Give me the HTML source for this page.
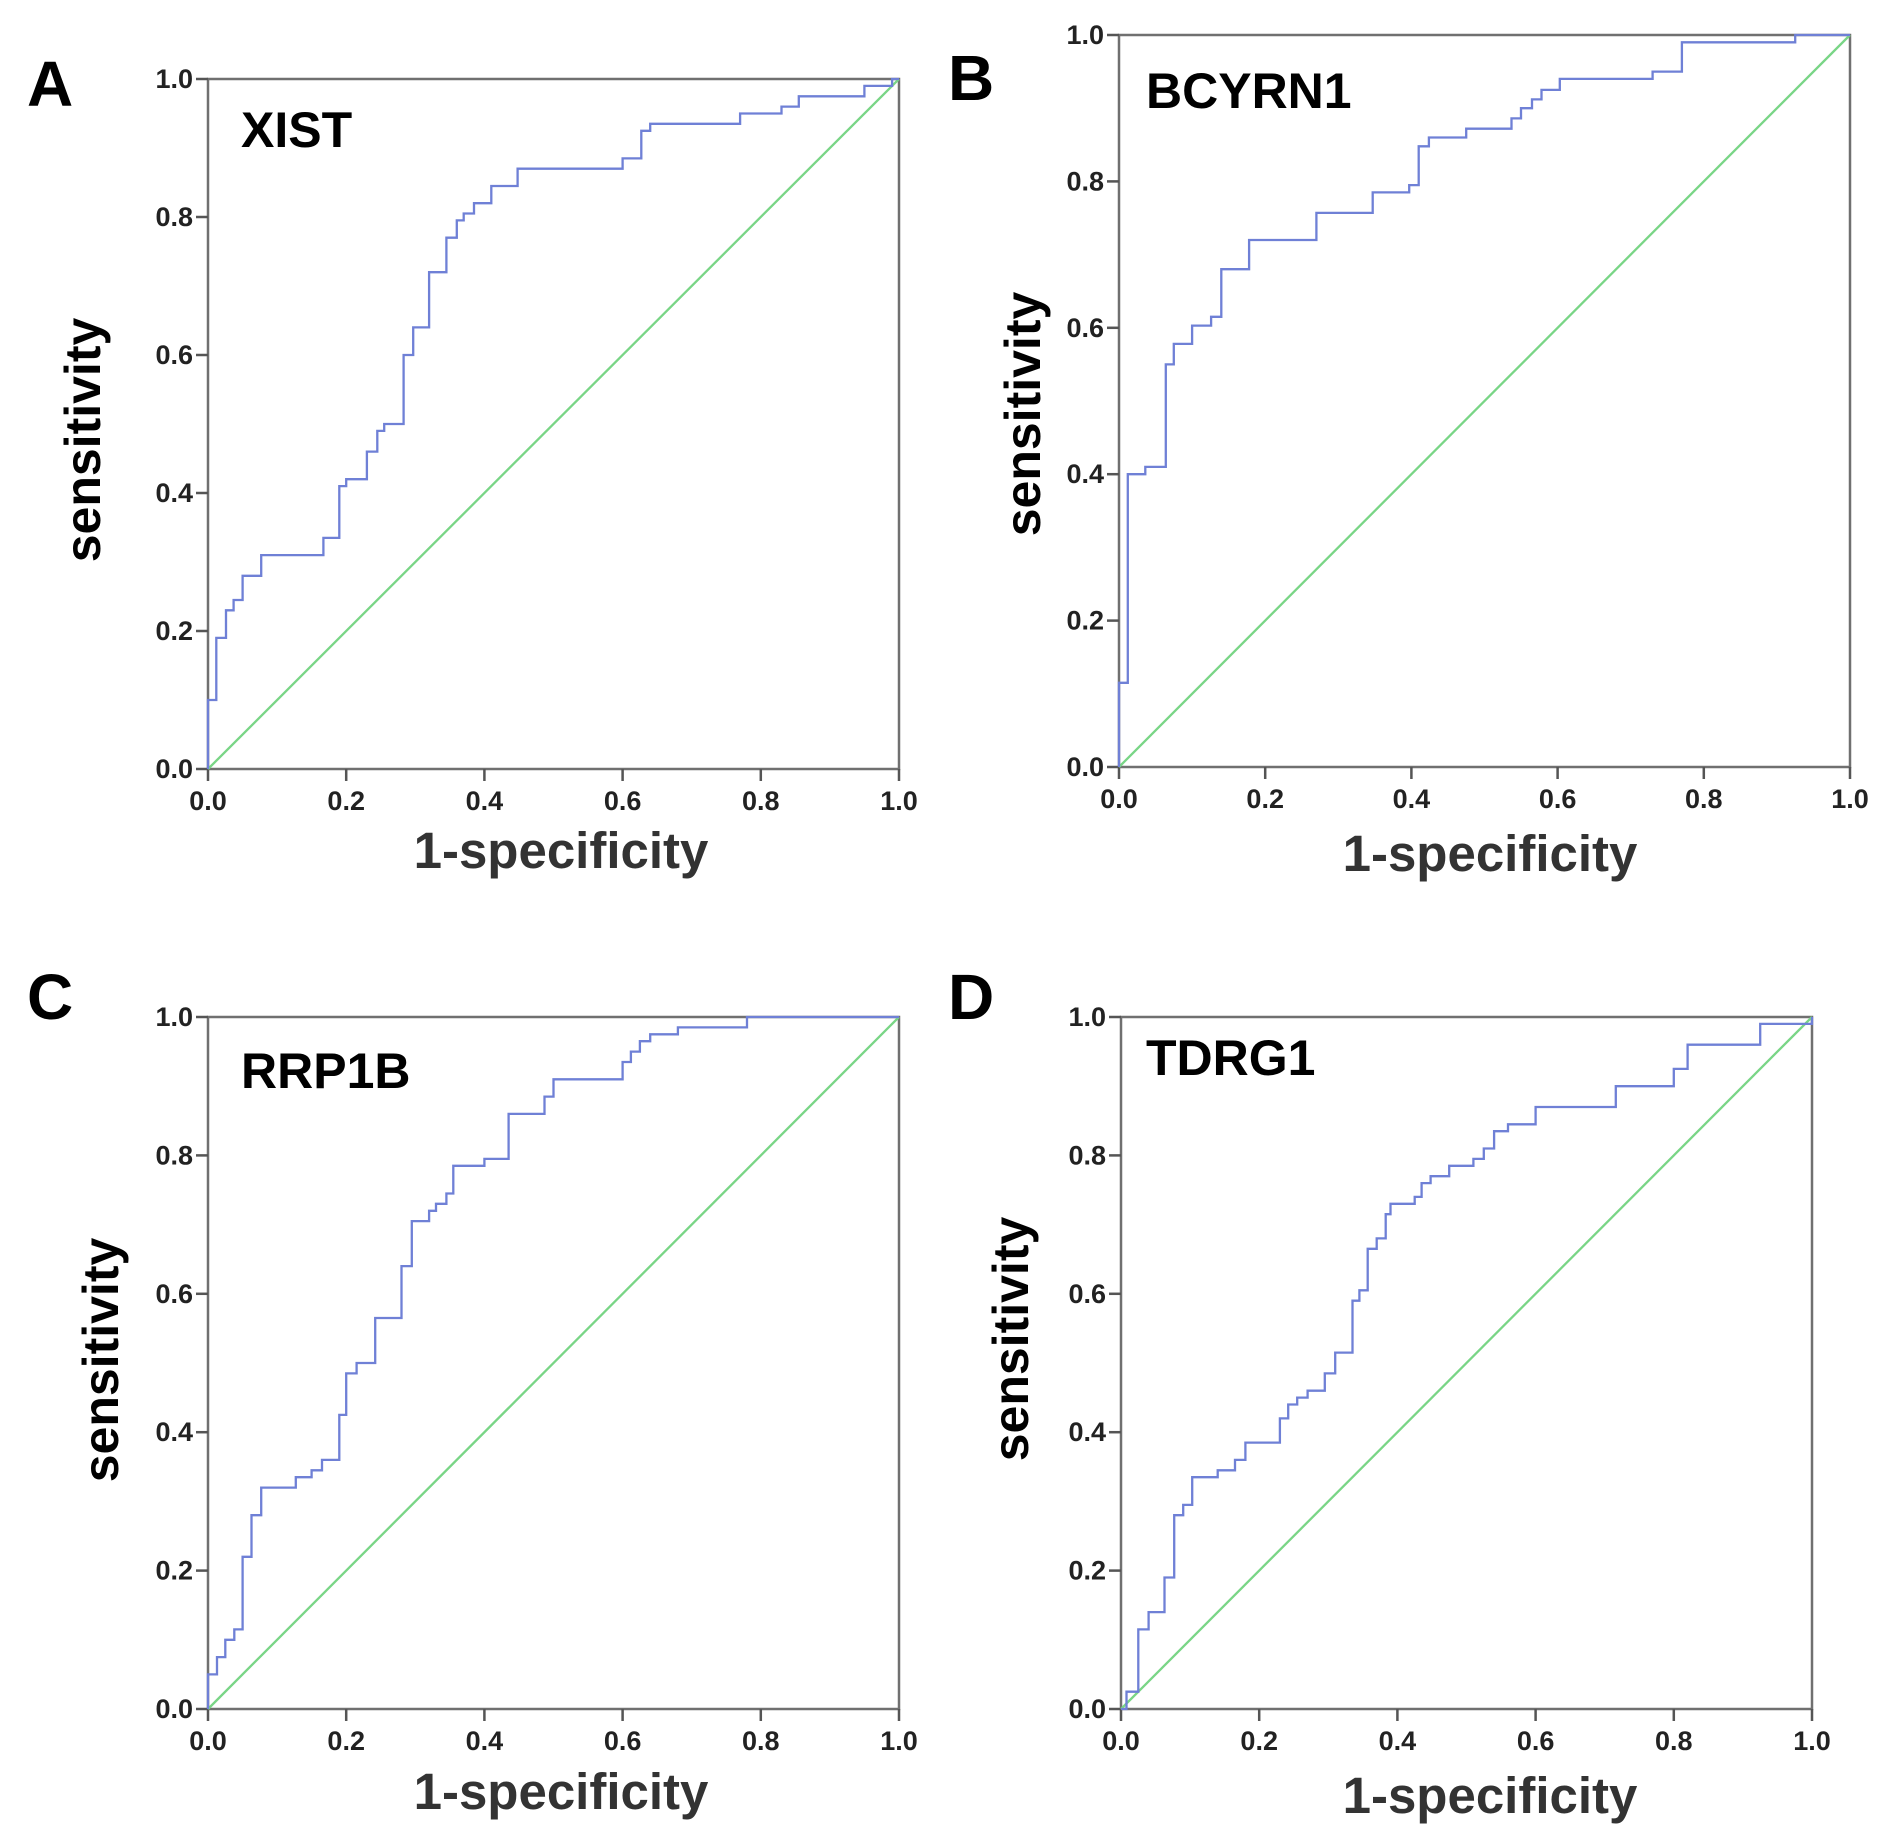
<!DOCTYPE html>
<html><head><meta charset="utf-8"><style>
html,body{margin:0;padding:0;background:#fff;}
svg{display:block;font-family:"Liberation Sans",Arial,sans-serif;}
</style></head><body>
<svg id="fig" width="1890" height="1842" viewBox="0 0 1890 1842" xmlns="http://www.w3.org/2000/svg"></svg>
<script>
// Panel A – XIST
const xistFpr = [0, 0.012, 0.026, 0.037, 0.05, 0.077, 0.167, 0.19, 0.2, 0.23, 0.245, 0.255, 0.283, 0.297, 0.32, 0.345, 0.36, 0.37, 0.385, 0.41, 0.448, 0.6, 0.627, 0.64, 0.77, 0.83, 0.855, 0.95, 0.99, 1.0];
const xistTpr = [0.10, 0.19, 0.23, 0.245, 0.28, 0.31, 0.335, 0.41, 0.42, 0.46, 0.49, 0.50, 0.60, 0.64, 0.72, 0.77, 0.795, 0.805, 0.82, 0.845, 0.87, 0.885, 0.925, 0.935, 0.95, 0.96, 0.975, 0.99, 1.0, 1.0];
// Panel B – BCYRN1
const bcyrn1Fpr = [0, 0.012, 0.036, 0.064, 0.075, 0.1, 0.126, 0.14, 0.178, 0.27, 0.347, 0.397, 0.41, 0.424, 0.475, 0.537, 0.55, 0.565, 0.578, 0.603, 0.73, 0.77, 0.925, 1.0];
const bcyrn1Tpr = [0.115, 0.40, 0.41, 0.55, 0.578, 0.603, 0.615, 0.68, 0.72, 0.757, 0.785, 0.795, 0.848, 0.86, 0.872, 0.886, 0.90, 0.912, 0.925, 0.94, 0.95, 0.99, 1.0, 1.0];
// Panel C – RRP1B
const rrp1bFpr = [0, 0.013, 0.025, 0.038, 0.05, 0.063, 0.077, 0.127, 0.15, 0.165, 0.19, 0.2, 0.215, 0.242, 0.28, 0.295, 0.32, 0.33, 0.345, 0.355, 0.4, 0.435, 0.487, 0.5, 0.6, 0.612, 0.625, 0.64, 0.68, 0.78, 1.0];
const rrp1bTpr = [0.05, 0.075, 0.10, 0.115, 0.22, 0.28, 0.32, 0.335, 0.345, 0.36, 0.425, 0.485, 0.50, 0.565, 0.64, 0.705, 0.72, 0.73, 0.745, 0.785, 0.795, 0.86, 0.885, 0.91, 0.935, 0.95, 0.965, 0.975, 0.985, 1.0, 1.0];
// Panel D – TDRG1
const tdrg1Fpr = [0.008, 0.025, 0.04, 0.063, 0.077, 0.09, 0.103, 0.14, 0.165, 0.18, 0.23, 0.242, 0.255, 0.27, 0.295, 0.31, 0.335, 0.345, 0.357, 0.37, 0.383, 0.39, 0.425, 0.435, 0.448, 0.475, 0.51, 0.525, 0.54, 0.56, 0.6, 0.716, 0.8, 0.82, 0.925, 1.0];
const tdrg1Tpr = [0.025, 0.115, 0.14, 0.19, 0.28, 0.295, 0.335, 0.345, 0.36, 0.385, 0.42, 0.44, 0.45, 0.46, 0.485, 0.515, 0.59, 0.605, 0.665, 0.68, 0.715, 0.73, 0.74, 0.76, 0.77, 0.785, 0.795, 0.81, 0.835, 0.845, 0.87, 0.90, 0.925, 0.96, 0.99, 1.0];
// Shared axis ticks
const tickValues = [0, 0.2, 0.4, 0.6, 0.8, 1.0];
const tickLabels = ["0.0", "0.2", "0.4", "0.6", "0.8", "1.0"];

const NS = "http://www.w3.org/2000/svg";
const svg = document.getElementById("fig");
function mk(tag, attrs, parent) {
  const e = document.createElementNS(NS, tag);
  for (const k in attrs) e.setAttribute(k, attrs[k]);
  (parent || svg).appendChild(e);
  return e;
}

const panels = [
  {id:"a", letter:"A", gene:"XIST", fpr:xistFpr, tpr:xistTpr, L:208, R:899, T:79, B:769, lx:27, ly:106, gx:241, gy:147, sx:100, sy:440, xx:561, xy:868},
  {id:"b", letter:"B", gene:"BCYRN1", fpr:bcyrn1Fpr, tpr:bcyrn1Tpr, L:1119, R:1850, T:35, B:767, lx:948, ly:100, gx:1146, gy:108, sx:1040, sy:414, xx:1490, xy:871},
  {id:"c", letter:"C", gene:"RRP1B", fpr:rrp1bFpr, tpr:rrp1bTpr, L:208, R:899, T:1017, B:1709, lx:27, ly:1019, gx:241, gy:1088, sx:118, sy:1360, xx:561, xy:1809},
  {id:"d", letter:"D", gene:"TDRG1", fpr:tdrg1Fpr, tpr:tdrg1Tpr, L:1121, R:1812, T:1017, B:1709, lx:948, ly:1019, gx:1146, gy:1075, sx:1028, sy:1339, xx:1490, xy:1813}
];

panels.forEach(p => {
  const g = mk("g", {});
  
  
  const xs = v => p.L + v * (p.R - p.L);
  const ys = v => p.B - v * (p.B - p.T);

  const lt = mk("text", {x:p.lx, y:p.ly, "font-size":64, "font-weight":"bold", fill:"#000"}, g);
  lt.textContent = p.letter;
  
  

  const fr = mk("rect", {x:p.L, y:p.T, width:p.R - p.L, height:p.B - p.T, fill:"none", stroke:"#707070", "stroke-width":2.5}, g);
  
  

  tickValues.forEach((v, i) => {
    const tx = mk("line", {x1:xs(v), x2:xs(v), y1:p.B, y2:p.B + 12, stroke:"#555", "stroke-width":2.5}, g);
    
    
    const ty = mk("line", {x1:p.L - 12, x2:p.L, y1:ys(v), y2:ys(v), stroke:"#555", "stroke-width":2.5}, g);
    
    
    const xl = mk("text", {x:xs(v), y:p.B + 41, "font-size":27, "font-weight":"bold", fill:"#222", "text-anchor":"middle"}, g);
    xl.textContent = tickLabels[i];
    
    
    const yl = mk("text", {x:p.L - 15, y:ys(v) + 9, "font-size":27, "font-weight":"bold", fill:"#222", "text-anchor":"end"}, g);
    yl.textContent = tickLabels[i];
    
    
  });

  const dg = mk("line", {x1:xs(0), y1:ys(0), x2:xs(1), y2:ys(1), stroke:"#79d586", "stroke-width":2.3}, g);
  
  

  let d = "M" + xs(0) + "," + ys(0);
  for (let i = 0; i < p.fpr.length; i++) {
    d += " H" + xs(p.fpr[i]).toFixed(1) + " V" + ys(p.tpr[i]).toFixed(1);
  }
  const cv = mk("path", {d:d, fill:"none", stroke:"#6f80d6", "stroke-width":2.3}, g);
  
  

  const gt = mk("text", {x:p.gx, y:p.gy, "font-size":50, "font-weight":"bold", fill:"#000"}, g);
  gt.textContent = p.gene;
  
  

  const xt = mk("text", {x:p.xx, y:p.xy, "font-size":51, "font-weight":"bold", fill:"#333", "text-anchor":"middle"}, g);
  xt.textContent = "1-specificity";
  
  

  const st = mk("text", {x:p.sx, y:p.sy, "font-size":50, "font-weight":"bold", fill:"#000", "text-anchor":"middle", transform:"rotate(-90 " + p.sx + " " + p.sy + ")"}, g);
  st.textContent = "sensitivity";
  
  
});
</script>
</body></html>
